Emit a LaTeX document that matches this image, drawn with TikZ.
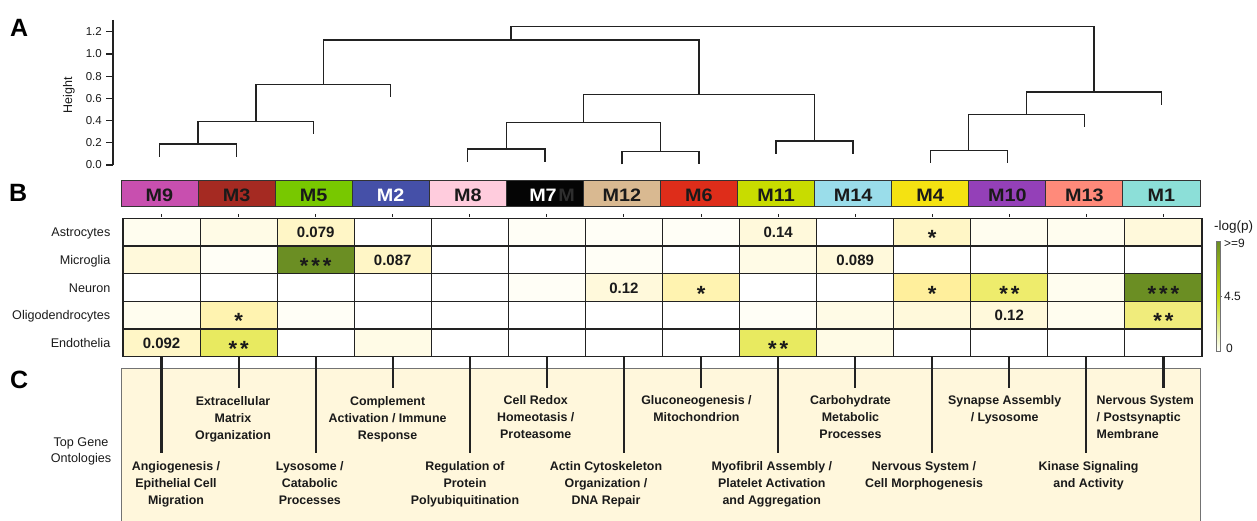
\documentclass[tikz,border=0pt]{standalone}
\usepackage{graphicx}
\usepackage{fontspec}
\setmainfont{Liberation Sans}
\definecolor{cM9}{HTML}{C84FAF}
\definecolor{cM3}{HTML}{A52A22}
\definecolor{cM5}{HTML}{78C800}
\definecolor{cM2}{HTML}{4550A8}
\definecolor{cM8}{HTML}{FFCCDD}
\definecolor{cM7}{HTML}{050505}
\definecolor{cM12}{HTML}{D9B991}
\definecolor{cM6}{HTML}{DE2D1A}
\definecolor{cM11}{HTML}{C8DC00}
\definecolor{cM14}{HTML}{9ADDEA}
\definecolor{cM4}{HTML}{F4E212}
\definecolor{cM10}{HTML}{9440B8}
\definecolor{cM13}{HTML}{FF8A7A}
\definecolor{cM1}{HTML}{8CDFD8}
\definecolor{txtdark}{HTML}{1A1A1A}
\definecolor{ghost}{HTML}{2E2E2E}
\definecolor{hw}{HTML}{FFFFFF}
\definecolor{h0}{HTML}{FFFEF6}
\definecolor{hA}{HTML}{FFFDEF}
\definecolor{h1}{HTML}{FFFBE6}
\definecolor{h2}{HTML}{FFF9DB}
\definecolor{h3}{HTML}{FFF6C6}
\definecolor{h4}{HTML}{FFF3B0}
\definecolor{h5}{HTML}{FFEF9C}
\definecolor{h6}{HTML}{EEEC6C}
\definecolor{h6b}{HTML}{F0EC7C}
\definecolor{h7}{HTML}{E8EA60}
\definecolor{h8}{HTML}{6B8E23}
\definecolor{barmid}{HTML}{C2DA08}
\definecolor{barlow}{HTML}{F2EE8A}
\definecolor{panelC}{HTML}{FFF7DC}
\definecolor{gridc}{HTML}{222222}
\newcommand{\dendjoin}[5]{\draw[dend] (#1,#2) -- (#1,#5) -- (#3,#5) -- (#3,#4);}
\begin{document}
\begin{tikzpicture}[x=1pt,y=-1pt,
  dend/.style={line width=1.35pt, draw=gridc},
  modbox/.style={draw=black!80, line width=0.9pt, minimum width=77.07pt, minimum height=26pt, inner sep=0pt, outer sep=0pt},
  modlab/.style={anchor=base, inner sep=0pt, font=\fontsize{18}{20}\selectfont\bfseries},
  cell/.style={draw=gridc, line width=1.1pt, minimum width=77.07pt, minimum height=27.68pt, inner sep=0pt, outer sep=0pt},
  numlab/.style={anchor=base, inner sep=0pt, text=txtdark, font=\fontsize{15}{16}\selectfont\bfseries},
  starlab/.style={anchor=base, inner sep=0pt, text=txtdark, font=\fontsize{22}{22}\selectfont\bfseries},
  rowlab/.style={anchor=base east, inner sep=0pt, text=txtdark, font=\fontsize{12.6}{15}\selectfont},
  axlab/.style={anchor=east, inner sep=0pt, text=txtdark, font=\fontsize{11.5}{13}\selectfont},
  panlab/.style={anchor=base west, inner sep=0pt, font=\fontsize{25}{28}\selectfont\bfseries},
  golab/.style={anchor=north, inner sep=0pt, align=center, text=txtdark, font=\fontsize{12.4}{17}\selectfont\bfseries},
  golabl/.style={anchor=north west, inner sep=0pt, align=left, text=txtdark, font=\fontsize{12.4}{17}\selectfont\bfseries},
  goline/.style={line width=2.2pt, draw=gridc},
  leglab/.style={anchor=west, inner sep=0pt, text=txtdark, font=\fontsize{12}{13}\selectfont}
]
\useasboundingbox (0,0) rectangle (1257,521);

% panel letters
\node[panlab] (pA) at (10,36.7) {A};
\node[panlab] (pB) at (9,202) {B};
\node[panlab] (pC) at (10,388) {C};

% ---- A: axis
\draw[line width=1.2pt, gridc] (113,20) -- (113,165);
\foreach \v [count=\k from 0] in {0.0,0.2,0.4,0.6,0.8,1.0,1.2} {
  \draw[line width=1.2pt, gridc] (106,{165-22.2*\k}) -- (113,{165-22.2*\k});
  \node[axlab] (ax\k) at (102,{165-22.2*\k}) {\v};
}
\node[rotate=90, inner sep=0pt, text=txtdark, font=\fontsize{12.5}{14}\selectfont] (hgt) at (69,95) {Height};

% ---- A: dendrogram
\dendjoin{159.5}{156.7}{236.57}{156.7}{144}
\dendjoin{198.03}{144}{313.64}{134.4}{121.7}
\dendjoin{255.84}{121.7}{390.71}{97}{84.3}
\dendjoin{467.78}{161.7}{544.85}{161.7}{149}
\dendjoin{621.92}{164.4}{698.99}{164.4}{151.7}
\dendjoin{506.3}{149}{660.46}{151.7}{122.7}
\dendjoin{776.06}{153.7}{853.13}{153.7}{141}
\dendjoin{583.38}{122.7}{814.6}{141}{94.7}
\dendjoin{323.27}{84.3}{698.99}{94.7}{40}
\dendjoin{930.2}{163}{1007.27}{163}{150.3}
\dendjoin{968.74}{150.3}{1084.34}{127.4}{114.7}
\dendjoin{1026.54}{114.7}{1161.41}{104.7}{92}
\dendjoin{511.13}{40}{1093.98}{92}{26.7}

% ---- B: module bar
\foreach \n/\c [count=\k from 0] in {M9/cM9, M3/cM3, M5/cM5, M2/cM2, M8/cM8, M7/cM7, M12/cM12, M6/cM6, M11/cM11, M14/cM14, M4/cM4, M10/cM10, M13/cM13, M1/cM1} {
  \node[modbox, fill=\c] (mod\n) at ({159.5+77.07*\k},193) {};
  \draw[line width=1pt, gridc] ({161.5+77.07*\k},214) -- ({161.5+77.07*\k},217);
}
\node[modlab, text=ghost] (ghostM) at (566.5,201.5) {\scalebox{1.1}[1]{M}};
\foreach \n/\t [count=\k from 0] in {M9/txtdark, M3/txtdark, M5/txtdark, M2/white, M8/txtdark, M7/white, M12/txtdark, M6/txtdark, M11/txtdark, M14/txtdark, M4/txtdark, M10/txtdark, M13/txtdark, M1/txtdark} {
  \ifnum\k=5
    \node[modlab, text=\t] (lab\n) at (543,201.5) {\scalebox{1.1}[1]{\n}};
  \else
    \node[modlab, text=\t] (lab\n) at ({159.5+77.07*\k},201.5) {\scalebox{1.1}[1]{\n}};
  \fi
}

% ---- B: heatmap
\foreach \row [count=\j from 0] in {
  {hA,h1,h3,hw,hw,h0,h0,h0,h2,hw,h3,hA,hA,h2},
  {h2,h0,h8,h3,hw,hw,h0,hw,h1,h2,hw,hw,hw,hw},
  {hw,hw,hw,hw,hw,h0,h2,h4,hw,hw,h5,h6,hA,h8},
  {hA,h4,h0,hw,hw,hw,hw,hw,h0,h1,h2,h2,hA,h6b},
  {h3,h7,hw,h1,hw,hw,hw,hw,h7,h1,hw,hw,hw,hw}} {
  \foreach \c [count=\i from 0] in \row {
    \node[cell, fill=\c] (c\j-\i) at ({161.535+77.07*\i},{232.14+27.68*\j}) {};
  }
}
\foreach \lab [count=\j from 0] in {Astrocytes,Microglia,Neuron,Oligodendrocytes,Endothelia} {
  \node[rowlab] (row\j) at (110.5,{232.14+27.68*\j+4.8}) {\lab};
}
\foreach \i/\j/\t in {2/0/0.079, 8/0/0.14, 3/1/0.087, 9/1/0.089, 6/2/0.12, 11/3/0.12, 0/4/0.092} {
  \node[numlab] (num\i-\j) at ({161.535+77.07*\i},{232.14+27.68*\j+5.5}) {\t};
}
\foreach \i/\j/\t in {10/0/{*}, 2/1/{*\hspace{3pt}*\hspace{3pt}*}, 7/2/{*}, 10/2/{*}, 11/2/{*\hspace{3pt}*}, 13/2/{*\hspace{3pt}*\hspace{3pt}*}, 1/3/{*}, 13/3/{*\hspace{3pt}*}, 1/4/{*\hspace{3pt}*}, 8/4/{*\hspace{3pt}*}} {
  \node[starlab] (st\i-\j) at ({161.535+77.07*\i},{232.14+27.68*\j+13.5}) {\t};
}

% ---- legend
\node[anchor=west, inner sep=0pt, text=txtdark, font=\fontsize{13.5}{15}\selectfont] (legT) at (1214,227.5) {-log(p)};
\shade[top color=h8, bottom color=barmid] (1216.5,241.5) rectangle (1220.5,296);
\shade[top color=barmid, middle color=barlow, bottom color=white] (1216.5,296) rectangle (1220.5,351.5);
\draw[line width=0.5pt, black!55] (1216.5,241.5) rectangle (1220.5,351.5);
\draw[line width=0.6pt, black!60] (1220.5,296) -- (1222,296);
\node[leglab] (leg9) at (1224,243) {>=9};
\node[leglab] (leg45) at (1224,296) {4.5};
\node[leglab] (leg0) at (1226,348.7) {0};

% ---- C: panel
\fill[panelC] (121,368.3) rectangle (1200,530);
\draw[line width=1pt, black!55] (121,530) -- (121,368.3) -- (1200,368.3) -- (1200,530);
\foreach \k in {0,2,4,6,8,10,12} {
  \draw[goline] ({161.535+77.07*\k},356.5) -- ({161.535+77.07*\k},453.3);
}
\foreach \k in {1,3,5,7,9,11,13} {
  \draw[goline] ({161.535+77.07*\k},356.5) -- ({161.535+77.07*\k},388.3);
}
\node[anchor=north, inner sep=0pt, align=center, text=txtdark, font=\fontsize{12.6}{16.3}\selectfont] (tgo) at (81,437.5) {Top Gene\\Ontologies};

\node[golab] (go3) at (233,396.5) {Extracellular\\Matrix\\Organization};
\node[golab] (go2) at (387.6,396.5) {Complement\\Activation / Immune\\Response};
\node[golab] (go7) at (535.7,395.5) {Cell Redox\\Homeotasis /\\Proteasome};
\node[golab] (go6) at (696.4,395.5) {Gluconeogenesis /\\Mitochondrion};
\node[golab] (go14) at (850.5,395.5) {Carbohydrate\\Metabolic\\Processes};
\node[golab] (go10) at (1004.7,395.5) {Synapse Assembly\\/ Lysosome};
\node[golabl] (go1) at (1096.5,395.5) {Nervous System\\/ Postsynaptic\\Membrane};

\node[golab] (go9) at (176,461.5) {Angiogenesis /\\Epithelial Cell\\Migration};
\node[golab] (go5) at (309.8,461.5) {Lysosome /\\Catabolic\\Processes};
\node[golab] (go8) at (465,461.5) {Regulation of\\Protein\\Polyubiquitination};
\node[golab] (go12) at (606,461.5) {Actin Cytoskeleton\\Organization /\\DNA Repair};
\node[golab] (go11) at (771.8,461.5) {Myofibril Assembly /\\Platelet Activation\\and Aggregation};
\node[golab] (go4) at (924,461.5) {Nervous System /\\Cell Morphogenesis};
\node[golab] (go13) at (1088.6,461.5) {Kinase Signaling\\and Activity};
\end{tikzpicture}
\end{document}
